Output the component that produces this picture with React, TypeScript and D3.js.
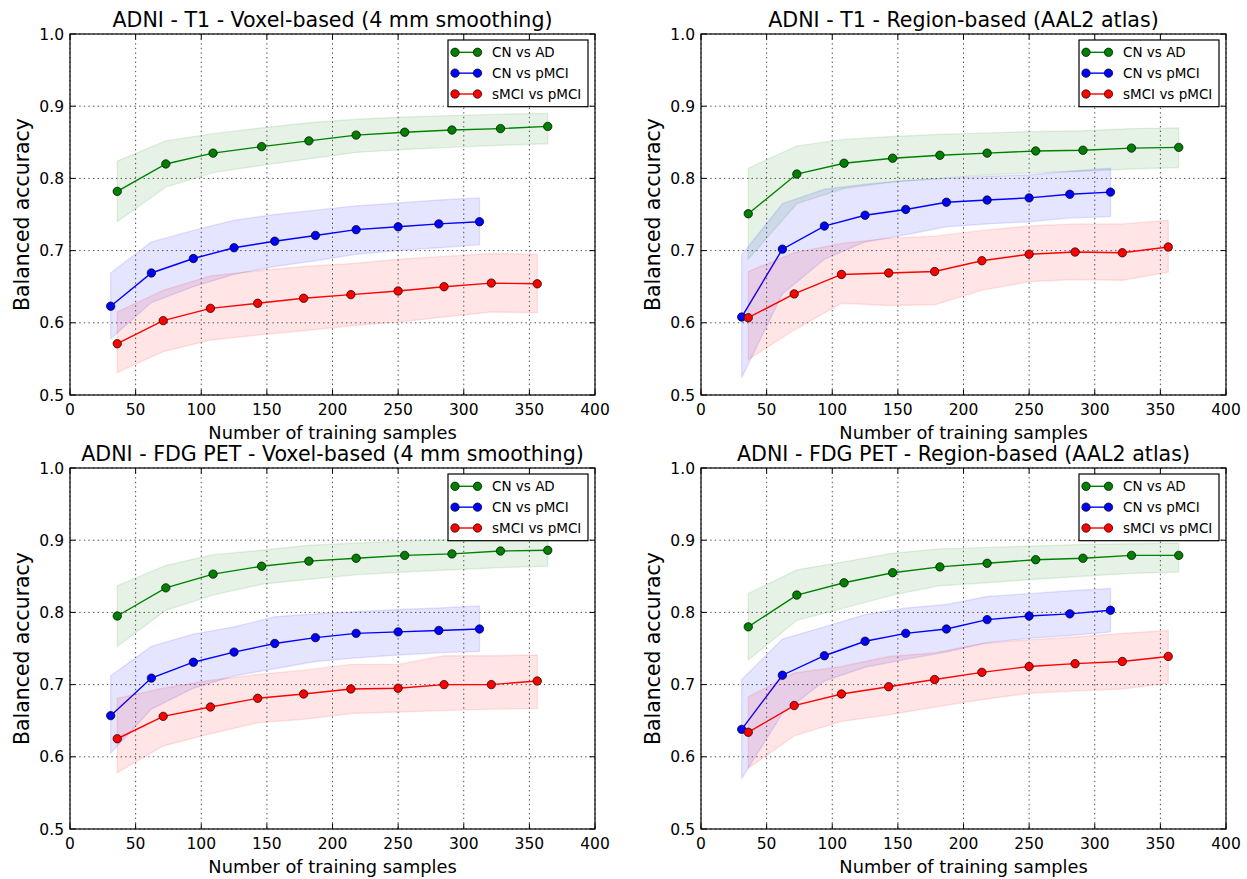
import React from "react";
import * as d3 from "d3";

// ---------- data ----------
const xTicks = [0, 50, 100, 150, 200, 250, 300, 350, 400];
const yTicks = [0.5, 0.6, 0.7, 0.8, 0.9, 1.0];
const seriesNames = ["CN vs AD", "CN vs pMCI", "sMCI vs pMCI"];
const seriesColors = ["#008000", "#0000ff", "#ff0000"];
const panelTitles = [
  "ADNI - T1 - Voxel-based (4 mm smoothing)",
  "ADNI - T1 - Region-based (AAL2 atlas)",
  "ADNI - FDG PET - Voxel-based (4 mm smoothing)",
  "ADNI - FDG PET - Region-based (AAL2 atlas)",
];

// training sample sizes per task
const xCNvsAD = [36, 73, 109, 146, 182, 218, 255, 291, 328, 364];
const xCNvsPMCI = [31, 62, 94, 125, 156, 187, 218, 250, 281, 312];
const xSMCIvsPMCI = [36, 71, 107, 143, 178, 214, 250, 285, 321, 356];

// Panel 1: T1 voxel-based
const t1VoxAdMean = [0.782, 0.82, 0.835, 0.844, 0.852, 0.86, 0.864, 0.867, 0.869, 0.872];
const t1VoxAdUp = [0.824, 0.852, 0.862, 0.87, 0.877, 0.882, 0.885, 0.887, 0.889, 0.89];
const t1VoxAdLo = [0.74, 0.788, 0.808, 0.818, 0.827, 0.836, 0.84, 0.843, 0.846, 0.848];
const t1VoxPmciMean = [0.623, 0.669, 0.689, 0.704, 0.713, 0.721, 0.729, 0.733, 0.737, 0.74];
const t1VoxPmciUp = [0.669, 0.712, 0.728, 0.742, 0.75, 0.756, 0.762, 0.766, 0.77, 0.773];
const t1VoxPmciLo = [0.578, 0.628, 0.65, 0.667, 0.678, 0.686, 0.695, 0.7, 0.704, 0.708];
const t1VoxSmciMean = [0.571, 0.603, 0.62, 0.627, 0.634, 0.639, 0.644, 0.65, 0.655, 0.654];
const t1VoxSmciUp = [0.615, 0.645, 0.665, 0.672, 0.678, 0.682, 0.688, 0.692, 0.696, 0.695];
const t1VoxSmciLo = [0.531, 0.56, 0.576, 0.583, 0.589, 0.596, 0.601, 0.608, 0.615, 0.614];

// Panel 2: T1 region-based
const t1RegAdMean = [0.751, 0.806, 0.821, 0.828, 0.832, 0.835, 0.838, 0.839, 0.842, 0.843];
const t1RegAdUp = [0.814, 0.845, 0.854, 0.858, 0.861, 0.863, 0.865, 0.866, 0.869, 0.87];
const t1RegAdLo = [0.688, 0.765, 0.786, 0.795, 0.8, 0.805, 0.808, 0.81, 0.813, 0.815];
const t1RegPmciMean = [0.608, 0.702, 0.734, 0.749, 0.757, 0.767, 0.77, 0.773, 0.778, 0.781];
const t1RegPmciUp = [0.694, 0.765, 0.785, 0.792, 0.797, 0.8, 0.803, 0.805, 0.81, 0.814];
const t1RegPmciLo = [0.524, 0.64, 0.688, 0.712, 0.722, 0.733, 0.737, 0.74, 0.745, 0.747];
const t1RegSmciMean = [0.607, 0.64, 0.667, 0.669, 0.671, 0.686, 0.695, 0.698, 0.697, 0.705];
const t1RegSmciUp = [0.671, 0.697, 0.71, 0.717, 0.72, 0.728, 0.734, 0.737, 0.737, 0.742];
const t1RegSmciLo = [0.549, 0.59, 0.627, 0.624, 0.625, 0.645, 0.657, 0.66, 0.659, 0.67];

// Panel 3: FDG PET voxel-based
const petVoxAdMean = [0.795, 0.834, 0.853, 0.864, 0.871, 0.875, 0.879, 0.881, 0.885, 0.886];
const petVoxAdUp = [0.837, 0.865, 0.88, 0.886, 0.893, 0.896, 0.899, 0.901, 0.903, 0.905];
const petVoxAdLo = [0.753, 0.803, 0.824, 0.839, 0.846, 0.852, 0.856, 0.859, 0.862, 0.864];
const petVoxPmciMean = [0.657, 0.709, 0.731, 0.745, 0.757, 0.765, 0.771, 0.773, 0.775, 0.777];
const petVoxPmciUp = [0.712, 0.753, 0.77, 0.78, 0.794, 0.798, 0.801, 0.804, 0.806, 0.809];
const petVoxPmciLo = [0.605, 0.666, 0.695, 0.712, 0.722, 0.732, 0.737, 0.741, 0.744, 0.746];
const petVoxSmciMean = [0.625, 0.656, 0.669, 0.681, 0.687, 0.694, 0.695, 0.7, 0.7, 0.705];
const petVoxSmciUp = [0.681, 0.695, 0.706, 0.714, 0.72, 0.728, 0.728, 0.74, 0.74, 0.741];
const petVoxSmciLo = [0.578, 0.615, 0.632, 0.647, 0.652, 0.66, 0.662, 0.664, 0.666, 0.667];

// Panel 4: FDG PET region-based
const petRegAdMean = [0.78, 0.824, 0.841, 0.855, 0.863, 0.868, 0.873, 0.875, 0.879, 0.879];
const petRegAdUp = [0.826, 0.859, 0.87, 0.882, 0.888, 0.89, 0.892, 0.894, 0.895, 0.896];
const petRegAdLo = [0.734, 0.789, 0.806, 0.824, 0.837, 0.841, 0.846, 0.85, 0.854, 0.856];
const petRegPmciMean = [0.638, 0.713, 0.74, 0.76, 0.771, 0.777, 0.79, 0.795, 0.798, 0.803];
const petRegPmciUp = [0.707, 0.763, 0.78, 0.797, 0.806, 0.811, 0.822, 0.826, 0.83, 0.833];
const petRegPmciLo = [0.57, 0.66, 0.705, 0.724, 0.735, 0.745, 0.758, 0.764, 0.768, 0.773];
const petRegSmciMean = [0.634, 0.671, 0.687, 0.697, 0.707, 0.717, 0.725, 0.729, 0.732, 0.739];
const petRegSmciUp = [0.683, 0.716, 0.725, 0.739, 0.744, 0.757, 0.762, 0.766, 0.771, 0.775];
const petRegSmciLo = [0.584, 0.629, 0.649, 0.658, 0.669, 0.679, 0.688, 0.691, 0.694, 0.702];

const xArrays = [xCNvsAD, xCNvsPMCI, xSMCIvsPMCI];
const panelSeries = [
  [
    [t1VoxAdMean, t1VoxAdLo, t1VoxAdUp],
    [t1VoxPmciMean, t1VoxPmciLo, t1VoxPmciUp],
    [t1VoxSmciMean, t1VoxSmciLo, t1VoxSmciUp],
  ],
  [
    [t1RegAdMean, t1RegAdLo, t1RegAdUp],
    [t1RegPmciMean, t1RegPmciLo, t1RegPmciUp],
    [t1RegSmciMean, t1RegSmciLo, t1RegSmciUp],
  ],
  [
    [petVoxAdMean, petVoxAdLo, petVoxAdUp],
    [petVoxPmciMean, petVoxPmciLo, petVoxPmciUp],
    [petVoxSmciMean, petVoxSmciLo, petVoxSmciUp],
  ],
  [
    [petRegAdMean, petRegAdLo, petRegAdUp],
    [petRegPmciMean, petRegPmciLo, petRegPmciUp],
    [petRegSmciMean, petRegSmciLo, petRegSmciUp],
  ],
];

// ---------- layout ----------
const W = 1247;
const H = 879;
const PW = 525;
const PH = 361;
const boxes = [
  { left: 70, top: 34 },
  { left: 701, top: 34 },
  { left: 70, top: 468 },
  { left: 701, top: 468 },
];
const FONT = "DejaVu Sans, Bitstream Vera Sans, sans-serif";

function Panel({ idx }: { idx: number }) {
  const { left, top } = boxes[idx];
  const x = d3.scaleLinear().domain([0, 400]).range([left, left + PW]);
  const y = d3.scaleLinear().domain([0.5, 1.0]).range([top + PH, top]);
  const series = panelSeries[idx];
  const tickLen = 5.5;
  const legL = left + PW - 147;
  const legT = top + 6;

  return (
    <g>
      <defs>
        <clipPath id={`clip${idx}`}>
          <rect x={left} y={top} width={PW} height={PH} />
        </clipPath>
      </defs>
      {/* grid */}
      <g stroke="#000" strokeWidth={0.7} strokeDasharray="1.4,3.2" fill="none">
        {xTicks.map((t) => (
          <line key={`gx${t}`} x1={x(t)} x2={x(t)} y1={top} y2={top + PH} />
        ))}
        {yTicks.map((t) => (
          <line key={`gy${t}`} x1={left} x2={left + PW} y1={y(t)} y2={y(t)} />
        ))}
      </g>
      {/* data */}
      <g clipPath={`url(#clip${idx})`}>
        {series.map((s, si) => {
          const xs = xArrays[si];
          const [mean, lo, up] = s;
          const pts = xs.map((xv, i) => ({ x: xv, m: mean[i], lo: lo[i], up: up[i] }));
          const area = d3
            .area<any>()
            .x((d) => x(d.x))
            .y0((d) => y(d.lo))
            .y1((d) => y(d.up));
          const line = d3
            .line<any>()
            .x((d) => x(d.x))
            .y((d) => y(d.m));
          const c = seriesColors[si];
          return (
            <g key={si}>
              <path d={area(pts) || ""} fill={c} fillOpacity={0.1} stroke={c} strokeOpacity={0.1} strokeWidth={1.4} />
              <path d={line(pts) || ""} fill="none" stroke={c} strokeWidth={1.4} />
              {pts.map((d, i) => (
                <circle key={i} cx={x(d.x)} cy={y(d.m)} r={4.2} fill={c} stroke="#000" strokeWidth={0.7} />
              ))}
            </g>
          );
        })}
      </g>
      {/* ticks */}
      <g stroke="#000" strokeWidth={1}>
        {xTicks.map((t) => (
          <g key={`tx${t}`}>
            <line x1={x(t)} x2={x(t)} y1={top + PH} y2={top + PH - tickLen} />
            <line x1={x(t)} x2={x(t)} y1={top} y2={top + tickLen} />
          </g>
        ))}
        {yTicks.map((t) => (
          <g key={`ty${t}`}>
            <line x1={left} x2={left + tickLen} y1={y(t)} y2={y(t)} />
            <line x1={left + PW} x2={left + PW - tickLen} y1={y(t)} y2={y(t)} />
          </g>
        ))}
      </g>
      <rect x={left} y={top} width={PW} height={PH} fill="none" stroke="#000" strokeWidth={1.2} />
      {/* tick labels */}
      <g fontFamily={FONT} fontSize={15.5} fill="#000">
        {xTicks.map((t) => (
          <text key={`lx${t}`} x={x(t)} y={top + PH + 19.5} textAnchor="middle">
            {t}
          </text>
        ))}
        {yTicks.map((t) => (
          <text key={`ly${t}`} x={left - 6} y={y(t) + 5.6} textAnchor="end">
            {t.toFixed(1)}
          </text>
        ))}
      </g>
      {/* labels */}
      <text x={left + PW / 2} y={top - 7} textAnchor="middle" fontFamily={FONT} fontSize={20.6}>
        {panelTitles[idx]}
      </text>
      <text x={left + PW / 2} y={top + PH + 44} textAnchor="middle" fontFamily={FONT} fontSize={17.8}>
        Number of training samples
      </text>
      <text
        transform={`translate(${left - 41.5},${top + PH / 2}) rotate(-90)`}
        textAnchor="middle"
        fontFamily={FONT}
        fontSize={20.4}
      >
        Balanced accuracy
      </text>
      {/* legend */}
      <g>
        <rect x={legL} y={legT} width={140} height={66.7} fill="#fff" stroke="#000" strokeWidth={1.2} />
        {seriesNames.map((n, i) => {
          const cy = legT + 12.3 + i * 20.85;
          const c = seriesColors[i];
          return (
            <g key={n}>
              <line x1={legL + 7} x2={legL + 29.5} y1={cy} y2={cy} stroke={c} strokeWidth={1.4} />
              <circle cx={legL + 7} cy={cy} r={4.2} fill={c} stroke="#000" strokeWidth={0.7} />
              <circle cx={legL + 29.5} cy={cy} r={4.2} fill={c} stroke="#000" strokeWidth={0.7} />
              <text x={legL + 44} y={cy + 4.9} fontFamily={FONT} fontSize={13.5}>
                {n}
              </text>
            </g>
          );
        })}
      </g>
    </g>
  );
}

export default function App() {
  return (
    <svg
      width={W}
      height={H}
      viewBox={`0 0 ${W} ${H}`}
      style={{ position: "absolute", left: 0, top: 0, background: "#fff" }}
    >
      <rect x={0} y={0} width={W} height={H} fill="#fff" />
      {[0, 1, 2, 3].map((i) => (
        <Panel key={i} idx={i} />
      ))}
    </svg>
  );
}
